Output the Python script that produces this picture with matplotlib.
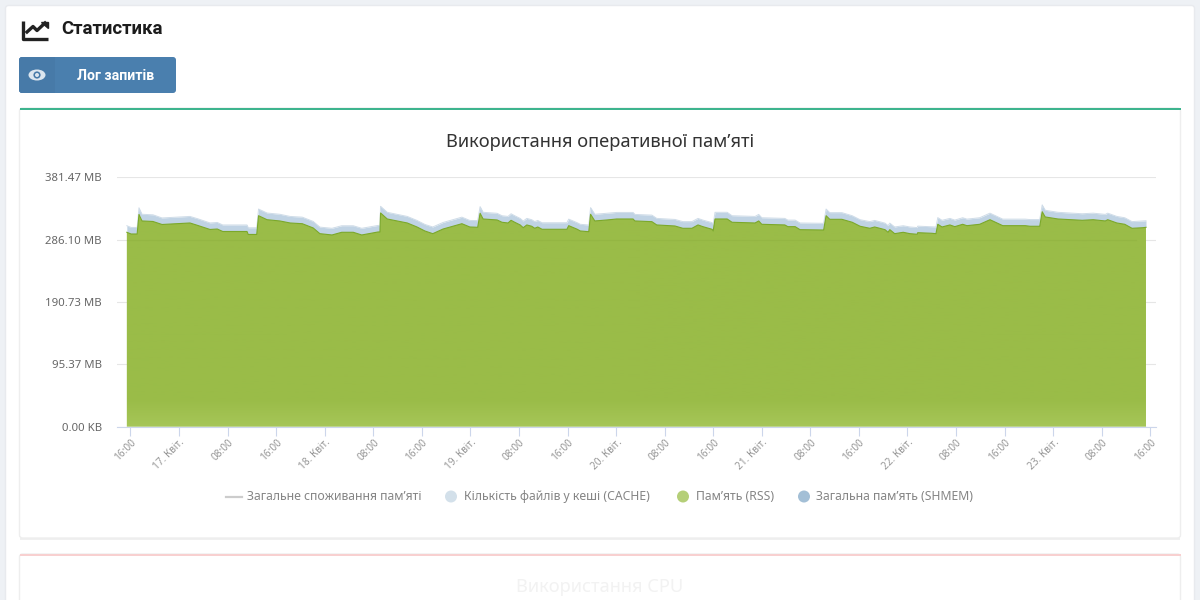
import numpy as np
import matplotlib
matplotlib.use('Agg')
import matplotlib.pyplot as plt
from matplotlib.patches import FancyBboxPatch, Rectangle, Ellipse, Circle
from matplotlib.transforms import ScaledTranslation

plt.rcParams['font.family'] = ['Noto Sans', 'DejaVu Sans']

# hours since 16 Apr 16:00
hours = [-0.6, 0.1, 1.1, 1.4, 1.9, 3.7, 5.2, 9.8, 11.1, 13.1,
         14.3, 15.2, 19.2, 19.4, 20.8, 21.1, 22.5, 24.6, 26.3, 28.3,
         30.1, 31.2, 33.2, 34.8, 36.7, 38.1, 40.8, 41.1, 41.2, 42.3,
         43.9, 45.6, 47.2, 48.5, 49.8, 51.5, 53.1, 54.6, 55.9, 57.2,
         57.6, 58.1, 60.4, 61.2, 62.2, 62.7, 63.3, 64.2, 64.7, 65.3,
         66.1, 66.6, 67.1, 67.8, 71.9, 72.2, 73.6, 74.1, 75.5, 75.8,
         76.5, 78.5, 80.1, 82.8, 83.1, 85.9, 86.7, 89.7, 91.0, 92.5,
         93.5, 94.3, 95.8, 96.0, 96.3, 98.3, 99.1, 102.9, 103.5, 104.0,
         107.8, 108.3, 109.5, 110.3, 113.6, 114.2, 114.6, 115.2, 117.2, 118.9,
         120.2, 121.8, 122.6, 124.3, 124.8, 125.1, 125.9, 127.3, 128.4, 129.6,
         129.7, 132.0, 132.7, 133.0, 133.7, 135.0, 135.8, 137.1, 137.8, 139.9,
         141.6, 143.7, 147.4, 148.2, 149.8, 150.2, 150.7, 152.8, 155.1, 156.8,
         158.6, 160.6, 161.0, 162.5, 163.8, 165.0, 166.8, 167.3]

rss = [296.6, 294.0, 294.0, 323.8, 313.9, 313.1, 308.5, 310.8, 307.0, 300.9,
       301.6, 297.8, 297.8, 293.3, 293.3, 321.9, 315.8, 313.9, 310.8, 309.7,
       303.2, 294.5, 292.5, 296.6, 296.6, 292.5, 297.1, 297.1, 326.1, 316.9,
       313.9, 310.8, 304.7, 298.6, 294.5, 301.6, 305.8, 309.7, 304.7, 304.2,
       325.6, 316.9, 315.4, 311.9, 310.8, 314.9, 311.9, 307.8, 303.6, 307.8,
       305.8, 302.7, 304.7, 301.2, 301.2, 306.7, 301.2, 298.6, 297.5, 324.1,
       313.9, 315.4, 316.9, 316.9, 313.9, 312.8, 307.8, 306.2, 302.7, 302.7,
       307.8, 305.2, 301.2, 298.6, 316.9, 316.9, 311.9, 310.8, 313.9, 308.8,
       307.8, 305.2, 305.2, 300.6, 300.1, 300.1, 321.9, 316.4, 316.4, 311.9,
       305.8, 302.7, 304.7, 300.6, 296.6, 300.6, 294.5, 296.6, 294.5, 293.6,
       296.0, 295.1, 294.5, 308.8, 304.7, 307.8, 305.2, 308.8, 306.7, 308.8,
       315.8, 306.7, 306.7, 305.8, 305.8, 328.0, 320.0, 316.9, 315.8, 314.9,
       315.8, 313.9, 315.8, 310.8, 308.8, 302.7, 303.6, 304.2]

cache = [10.0, 10.0, 10.0, 10.2, 10.2, 10.2, 10.0, 10.0, 10.2, 10.0,
         10.0, 10.0, 10.0, 10.2, 10.2, 10.2, 10.2, 10.2, 10.0, 10.0,
         10.0, 10.0, 10.2, 10.0, 10.0, 10.2, 10.0, 10.0, 10.2, 10.2,
         10.2, 10.0, 10.0, 10.0, 10.2, 10.0, 10.0, 10.0, 10.0, 10.2,
         10.2, 10.2, 10.2, 10.0, 10.0, 10.0, 10.0, 10.0, 10.2, 10.0,
         10.0, 10.2, 10.0, 10.0, 10.0, 10.0, 10.0, 10.2, 10.2, 10.2,
         10.2, 10.2, 10.0, 10.0, 10.0, 10.0, 10.0, 10.0, 10.2, 10.2,
         10.0, 10.0, 10.2, 10.2, 10.2, 10.2, 10.0, 10.0, 10.0, 10.0,
         10.0, 10.0, 10.0, 10.2, 10.2, 10.2, 10.2, 10.2, 10.2, 10.0,
         10.0, 10.2, 10.0, 10.0, 10.2, 10.0, 10.2, 10.0, 10.2, 10.2,
         10.0, 10.0, 10.2, 10.2, 10.2, 10.0, 10.0, 10.0, 10.0, 10.0,
         10.0, 10.0, 10.0, 10.2, 10.2, 10.5, 10.2, 10.2, 10.0, 10.0,
         10.0, 10.0, 10.0, 10.0, 10.0, 10.2, 10.2, 10.0]

shmem = [0.5] * len(hours)

y_ticks = [0, 95.37, 190.73, 286.10, 381.47]
y_labels = ['0.00 KB', '95.37 MB', '190.73 MB', '286.10 MB', '381.47 MB']
x_ticks = list(range(0, 169, 8))
x_labels = ['16:00', '17. Квіт.', '08:00', '16:00', '18. Квіт.', '08:00',
            '16:00', '19. Квіт.', '08:00', '16:00', '20. Квіт.', '08:00',
            '16:00', '21. Квіт.', '08:00', '16:00', '22. Квіт.', '08:00',
            '16:00', '23. Квіт.', '08:00', '16:00']

fig = plt.figure(figsize=(12, 6), dpi=100, facecolor='#eef1f5')

# page furniture, in pixels
bg = fig.add_axes([0, 0, 1, 1])
bg.set_xlim(0, 1200)
bg.set_ylim(600, 0)
bg.axis('off')

bg.add_patch(FancyBboxPatch((5.5, 5.5), 1189, 700, boxstyle='round,pad=0,rounding_size=3',
                            fc='white', ec='#e8eaee', lw=1))


def panel(y0, y1, color):
    bg.add_patch(Rectangle((20, y0 + 2), 1160, y1 - y0, fc='#f0f0f0', ec='none'))
    bg.add_patch(FancyBboxPatch((19.5, y0), 1161, y1 - y0, boxstyle='round,pad=0,rounding_size=3',
                                fc='white', ec='#eeeeee', lw=1))
    bg.add_patch(Rectangle((19.5, y0), 1161, 2, fc=color, ec='none'))


panel(108, 538, '#3eb48e')
panel(554, 700, '#f8d0d0')

# chart-line icon
bg.plot([22.5, 22.5, 48], [21, 38.5, 38.5], color='#222222', lw=2.4, solid_capstyle='butt')
bg.plot([27, 33, 37, 45], [32, 26.5, 30.5, 23], color='#222222', lw=2.4)
bg.fill([41, 47.5, 47.5], [22, 22, 28], color='#222222')
bg.text(61.5, 29.5, 'Статистика', family=['Roboto', 'DejaVu Sans'], fontsize=13.4, weight='bold',
        color='#1c1c1c', va='center')

# button
bg.add_patch(FancyBboxPatch((19, 57), 157, 36, boxstyle='round,pad=0,rounding_size=3',
                            fc='#4a7fae', ec='none'))
bg.add_patch(FancyBboxPatch((19, 57), 36, 36, boxstyle='round,pad=0,rounding_size=3',
                            fc='#477aa8', ec='none'))
bg.add_patch(Rectangle((45, 57), 10, 36, fc='#477aa8', ec='none'))
bg.add_patch(Ellipse((37, 75), 17, 11, fc='#dce6ef', ec='none'))
bg.add_patch(Circle((37, 75), 3.6, fc='#477aa8', ec='none'))
bg.add_patch(Circle((37, 75), 2.0, fc='#dce6ef', ec='none'))
bg.text(115.5, 75.5, 'Лог запитів', family=['Roboto', 'DejaVu Sans'], fontsize=10.2, weight='bold',
        color='white', ha='center', va='center')

bg.text(600, 142, 'Використання оперативної пам\u2019яті', fontsize=13.2, color='#333333',
        ha='center', va='center')
bg.text(600, 587, 'Використання CPU', fontsize=13.2, color='#f2f2f2', ha='center', va='center')

# legend
legend_color = '#858585'
bg.plot([226, 242], [496.5, 496.5], color='#cccccc', lw=1.6)
bg.text(247, 496.5, 'Загальне споживання пам\u2019яті', fontsize=8.8, color=legend_color, va='center')
bg.add_patch(Circle((451, 496.5), 6, fc='#d3e0ea', ec='none'))
bg.text(464, 496.5, 'Кількість файлів у кеші (CACHE)', fontsize=8.8, color=legend_color, va='center')
bg.add_patch(Circle((683, 496.5), 6, fc='#b5cf78', ec='none'))
bg.text(695.5, 496.5, 'Пам\u2019ять (RSS)', fontsize=8.8, color=legend_color, va='center')
bg.add_patch(Circle((804, 496.5), 6, fc='#a3bfd6', ec='none'))
bg.text(816.5, 496.5, 'Загальна пам\u2019ять (SHMEM)', fontsize=8.8, color=legend_color, va='center')

# chart
ax = fig.add_axes([117 / 1200, 1 - 427 / 600, 1039 / 1200, 250 / 600])
ax.patch.set_alpha(0)

t = np.array(hours)
s = np.array(shmem)
r = s + np.array(rss)
c = r + np.array(cache)

ax.set_axisbelow(True)
ax.grid(axis='y', color='#e6e6e6', lw=0.8)
ax.fill_between(t, r, c, color='#c0d3e4', lw=0, zorder=2)
ax.plot(t, c, color='#cfdce8', lw=0.7, zorder=2)

# rss fill fades a little toward the bottom
poly = ax.fill_between(t, s, r, color='none', lw=0, zorder=3)
top = np.array(matplotlib.colors.to_rgb('#9abc48'))
bottom = np.array(matplotlib.colors.to_rgb('#a6c658'))
ys = np.linspace(0, 1, 200)
shade = np.interp(ys, [0, 0.88, 1], [0, 0, 1])[:, None, None] * (bottom - top)[None, None, :] + top
im = ax.imshow(shade, extent=(-2.22, 168.95, 0, 345), origin='upper', aspect='auto', zorder=3)
im.set_clip_path(poly.get_paths()[0], transform=ax.transData)
ax.set_xlim(-2.22, 168.95)
ax.set_ylim(0, 381.47)

ax.plot(t, r, color='#7ba82a', lw=0.8, zorder=4)
ax.plot(t, s, color='#8fb0b8', lw=0.8, zorder=4)
ax.axhline(286.10, xmin=0.0095, xmax=0.9805, color='#8aab3c', lw=0.8, alpha=0.35, zorder=5)

for side in ['top', 'left', 'right']:
    ax.spines[side].set_visible(False)
ax.spines['bottom'].set_color('#ccd6eb')
ax.spines['bottom'].set_linewidth(0.8)

ax.set_yticks(y_ticks)
ax.set_yticklabels(y_labels, fontsize=8.2, color='#666666')
ax.tick_params(axis='y', length=0, pad=11)
ax.set_xticks(x_ticks)
ax.set_xticklabels(x_labels, fontsize=7.2, color='#969696', rotation=45, ha='right', va='center',
                   rotation_mode='anchor')
ax.tick_params(axis='x', length=6.8, width=0.8, color='#ccd6eb', pad=3)
shift = ScaledTranslation(3 / 72, 0, fig.dpi_scale_trans)
for label in ax.get_xticklabels():
    label.set_transform(label.get_transform() + shift)

fig.savefig('out.png', dpi=100, facecolor=fig.get_facecolor())
